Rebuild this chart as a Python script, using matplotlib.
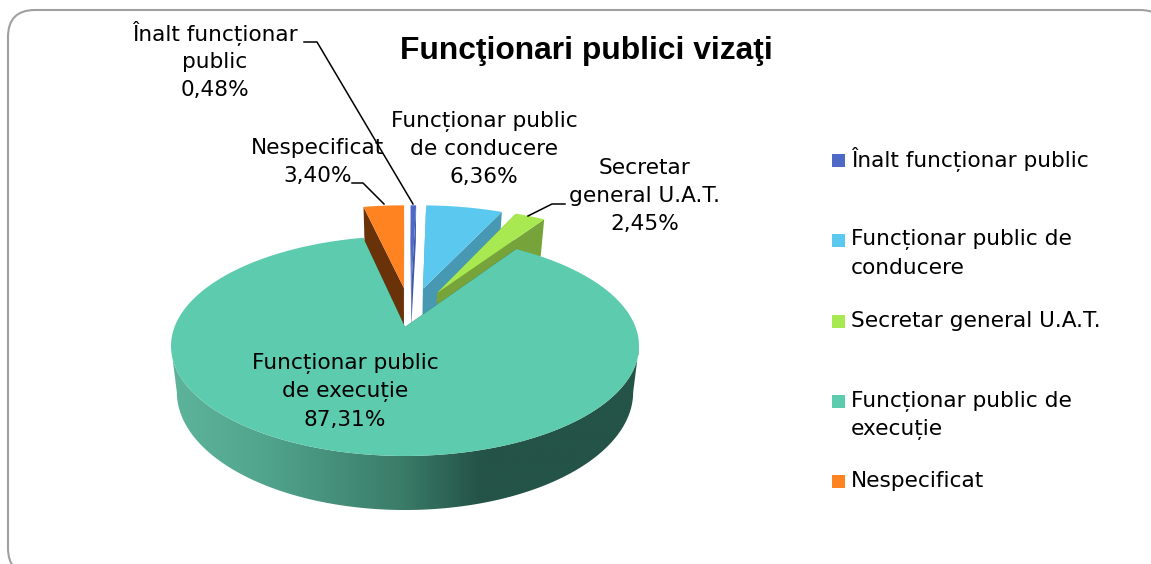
import numpy as np
import matplotlib
matplotlib.use('Agg')
import matplotlib.pyplot as plt
from matplotlib.colors import LinearSegmentedColormap
from matplotlib.patches import FancyBboxPatch, Polygon, Rectangle

# data, in pie order (clockwise from the top)
categories = ['Înalt funcționar public', 'Funcționar public de conducere',
              'Secretar general U.A.T.', 'Funcționar public de execuție', 'Nespecificat']
values = [0.48, 6.36, 2.45, 87.31, 3.40]
title = 'Funcţionari publici vizaţi'

top_colors = ['#4F69C6', '#5BC9EF', '#A8E850', '#5CCBAE', '#FF8320']
side_colors = ['#3F57A8', '#4698B3', '#76A33A', '#245347', '#6A3209']

# offset of each slice on the pie plane and its radius
explode = [(0.030, 0.42), (0.083, 0.38), (0.147, 0.337), (0.0, 0.0), (-0.005, 0.39)]
radius = [1.0, 1.04, 1.06, 1.0, 1.03]

# perspective of the pie plane
CX, CY = 405, 327
A, B, D, P = 230.5, 106.7, 44.7, 0.1727
LOWER_SCALE = 0.975  # the lower rim looks a little narrower


def project(X, Y, depth=0.0):
    w = 1 + P * Y
    scale = 1 - (1 - LOWER_SCALE) * depth
    return CX + A * X * scale / w, CY - B * Y / w + D * depth / w


def arc_points(i, a0, a1, depth=0.0, n=200):
    t = np.radians(np.linspace(a0, a1, n))
    dx, dy = explode[i]
    return np.column_stack(project(dx + radius[i] * np.sin(t), dy + radius[i] * np.cos(t), depth))


fig = plt.figure(figsize=(11.51, 5.64), dpi=100)
ax = fig.add_axes([0, 0, 1, 1])

# rounded frame, running off the picture on the right and at the bottom
ax.add_patch(FancyBboxPatch((8, 10), 1159, 565, boxstyle='round,pad=0,rounding_size=27',
                            fc='white', ec='#A0A0A0', lw=1.5))

edges = np.concatenate([[0], np.cumsum(values)]) * 3.6
draw_order = [4, 0, 1, 2, 3]

for i in draw_order:
    a0, a1 = edges[i], edges[i + 1]
    apex_top = np.array(project(explode[i][0], explode[i][1]))
    apex_low = np.array(project(explode[i][0], explode[i][1], 1.0))
    # the two cut faces
    for a in (a0, a1):
        p_top = arc_points(i, a, a, n=1)[0]
        p_low = arc_points(i, a, a, depth=1.0, n=1)[0]
        ax.add_patch(Polygon([apex_top, p_top, p_low, apex_low], fc=side_colors[i], ec='none', zorder=2 + draw_order.index(i)))
    if i == 3:
        # outer wall of the big slice, dark towards the right
        wall = np.vstack([arc_points(i, 100, 260), arc_points(i, 100, 260, depth=1.0)[::-1]])
        patch = Polygon(wall, fc='none', ec='none', zorder=2 + draw_order.index(i))
        ax.add_patch(patch)
        cmap = LinearSegmentedColormap.from_list('wall', [(0, '#5DB49B'), (0.19, '#52A58D'), (0.49, '#3A7C68'),
                                                          (0.66, '#245347'), (1, '#245347')])
        img = ax.imshow(np.linspace(0, 1, 400)[None, :], extent=(172, 640, 515, 330), cmap=cmap,
                        aspect='auto', zorder=2 + draw_order.index(i))
        img.set_clip_path(patch)
    top = np.vstack([apex_top, arc_points(i, a0, a1)])
    ax.add_patch(Polygon(top, fc=top_colors[i], ec='none', zorder=2 + draw_order.index(i) + 0.5))

ax.text(586, 51, title, ha='center', va='center', fontsize=22.9, fontweight='bold',
        family='Liberation Sans', color='black', zorder=10)

# data labels
percent = [f'{v:.2f}%'.replace('.', ',') for v in values]
label_lines = [['Înalt funcționar', 'public'], ['Funcționar public', 'de conducere'],
               ['Secretar', 'general U.A.T.'], ['Funcționar public', 'de execuție'], ['Nespecificat']]
label_pos = [(215, 34), (484, 121), (645, 168), (345, 364), (318, 148)]
LABEL_SIZE = 15.6
for lines, pct, (x, y) in zip(label_lines, percent, label_pos):
    for k, line in enumerate(lines + [pct]):
        ax.text(x, y + 28 * k, line, ha='center', va='center', fontsize=LABEL_SIZE, color='black', zorder=10)

# leader lines
leaders = [[(304, 42), (317, 42), (413, 204)],
           [(352, 183), (363, 183), (384, 204)],
           [(565, 204), (552, 204), (528, 216)]]
for pts in leaders:
    xs, ys = zip(*pts)
    ax.plot(xs, ys, color='black', lw=1.1, zorder=9)

# legend
legend_y = [160, 240, 321, 401, 481]
legend_lines = [['Înalt funcționar public'], ['Funcționar public de', 'conducere'],
                ['Secretar general U.A.T.'], ['Funcționar public de', 'execuție'], ['Nespecificat']]
for y, lines, color in zip(legend_y, legend_lines, top_colors):
    ax.add_patch(Rectangle((832, y - 6.5), 13, 13, fc=color, ec='none', zorder=10))
    for k, line in enumerate(lines):
        ax.text(851, y + 28 * k, line, ha='left', va='center', fontsize=LABEL_SIZE, color='black', zorder=10)

ax.set_xlim(0, 1151)
ax.set_ylim(564, 0)
ax.axis('off')
fig.savefig('out.png', dpi=100)
